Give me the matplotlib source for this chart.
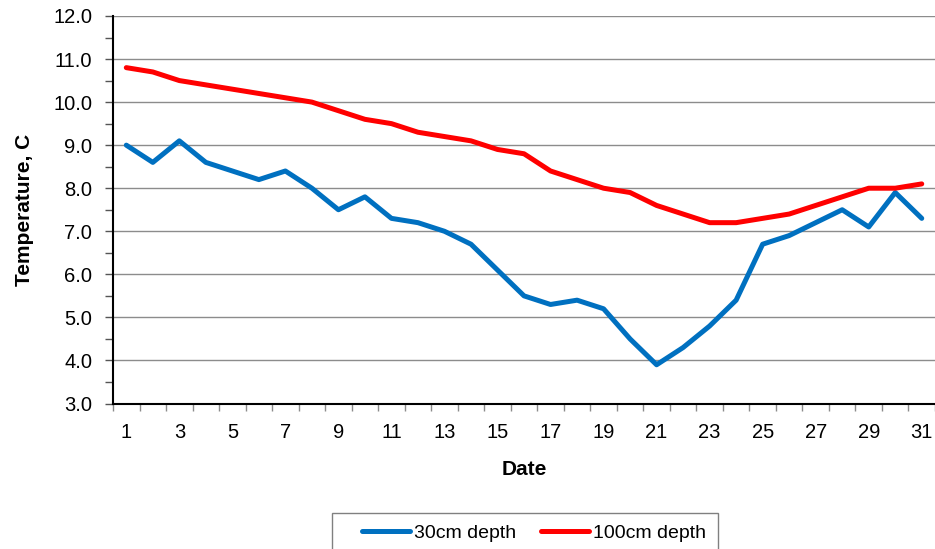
import numpy as np
import matplotlib.pyplot as plt
from matplotlib.patches import Rectangle
from matplotlib.ticker import MultipleLocator, FixedLocator

plt.rcParams["font.family"] = ["Liberation Sans", "DejaVu Sans"]

# Daily soil temperature readings (deg C)
dates = list(range(1, 32))
temp_30cm = [9.0, 8.6, 9.1, 8.6, 8.4, 8.2, 8.4, 8.0, 7.5, 7.8, 7.3, 7.2, 7.0, 6.7, 6.1,
             5.5, 5.3, 5.4, 5.2, 4.5, 3.9, 4.3, 4.8, 5.4, 6.7, 6.9, 7.2, 7.5, 7.1, 7.9, 7.3]
temp_100cm = [10.8, 10.7, 10.5, 10.4, 10.3, 10.2, 10.1, 10.0, 9.8, 9.6, 9.5, 9.3, 9.2, 9.1, 8.9,
              8.8, 8.4, 8.2, 8.0, 7.9, 7.6, 7.4, 7.2, 7.2, 7.3, 7.4, 7.6, 7.8, 8.0, 8.0, 8.1]
series_labels = ["30cm depth", "100cm depth"]

W, H = 935, 549
fig = plt.figure(figsize=(W / 100, H / 100), dpi=100)
ax = fig.add_axes([0.1209, 0.2650, 0.8791, 0.7059])

ax.plot(dates, temp_30cm, color="#0070C0", linewidth=3.6,
        solid_capstyle="round", solid_joinstyle="round", label=series_labels[0], zorder=3)
ax.plot(dates, temp_100cm, color="#FF0000", linewidth=3.6,
        solid_capstyle="round", solid_joinstyle="round", label=series_labels[1], zorder=3)

ax.set_xlim(0.5, 31.5)
ax.set_ylim(3.0, 12.0)

# y axis: major every 1.0 with gridlines, minor ticks every 0.5
ax.yaxis.set_major_locator(MultipleLocator(1.0))
ax.yaxis.set_minor_locator(MultipleLocator(0.5))
ax.yaxis.set_major_formatter(plt.FuncFormatter(lambda v, p: f"{v:.1f}"))
ax.grid(axis="y", color="#8c8c8c", linewidth=1.0, zorder=1)
ax.set_axisbelow(True)

# x axis: labels on odd dates, ticks between categories
ax.xaxis.set_major_locator(FixedLocator(dates[::2]))
ax.xaxis.set_minor_locator(FixedLocator(np.arange(0.5, 32, 1.0)))
ax.tick_params(axis="x", which="major", length=0, pad=14, labelsize=14.5)
ax.tick_params(axis="x", which="minor", length=5, color="#8c8c8c", width=1)
ax.tick_params(axis="y", which="both", length=6, color="#555555", width=1,
               labelsize=14.5, pad=9, direction="out")

for side in ["top", "right"]:
    ax.spines[side].set_visible(False)
ax.spines["left"].set_color("#000000")
ax.spines["bottom"].set_color("#000000")
ax.spines["left"].set_linewidth(1.5)
ax.spines["bottom"].set_linewidth(1.5)

ax.set_xlabel("Date", fontsize=15, fontweight="bold", labelpad=13)
ax.set_ylabel("Temperature, C", fontsize=15, fontweight="bold", labelpad=14)

# legend box runs off the bottom edge, so draw the frame separately
leg = fig.legend(loc="center left", bbox_to_anchor=(352 / W, 1 - 533 / H),
                 ncol=2, fontsize=14, frameon=False,
                 handlelength=2.5, columnspacing=1.25,
                 borderpad=0.0, handletextpad=0.2)
fig.patches.append(Rectangle((332 / W, -0.05), (718 - 332) / W, 0.05 + 1 - 513 / H,
                             transform=fig.transFigure, fill=False,
                             edgecolor="#808080", linewidth=1.0))

fig.savefig("out.png", dpi=100)
